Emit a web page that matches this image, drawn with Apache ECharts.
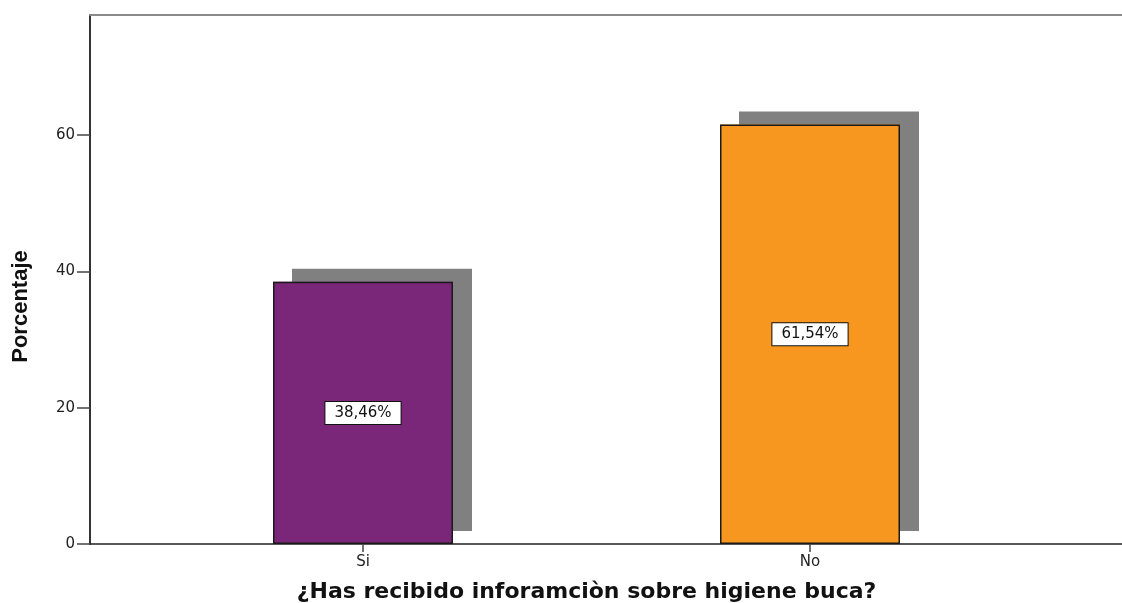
<!DOCTYPE html>
<html>
<head>
<meta charset="utf-8">
<script src="https://cdn.jsdelivr.net/npm/echarts@6/dist/echarts.min.js"></script>
<style>html,body{margin:0;padding:0;background:#fff}#c{width:1122px;height:603px}</style>
</head>
<body>
<div id="c"></div>
<script>
var categories = ['Si', 'No'];
var values = [38.46, 61.54];
var barColors = ['#7B2779', '#F7971F'];
var yTicks = [0, 20, 40, 60];
var yMax = 77.6;
var xTitle = '¿Has recibido inforamciòn sobre higiene buca?';
var yTitle = 'Porcentaje';

var chart = echarts.init(document.getElementById('c'), null, {renderer: 'canvas'});
var tickFont = {fontFamily: 'DejaVu Sans, sans-serif', fontSize: 15, color: '#222'};

function pct(v) { return v.toFixed(2).replace('.', ',') + '%'; }

var option = {
  animation: false,
  backgroundColor: '#fff',
  grid: [
    {left: 90, right: 0, top: 15, bottom: 59, containLabel: false, outerBoundsMode: 'none'},
    {left: 139.5, right: 88.5, top: 15, bottom: 59, containLabel: false, outerBoundsMode: 'none'}
  ],
  xAxis: [
    {gridIndex: 0, type: 'category', data: [''], position: 'bottom',
      axisLine: {show: true, lineStyle: {color: '#222', width: 1.5}},
      axisTick: {show: false}, axisLabel: {show: false}, splitLine: {show: false}},
    {gridIndex: 0, type: 'category', data: [''], position: 'top',
      axisLine: {show: true, lineStyle: {color: '#8a8a8a', width: 2}},
      axisTick: {show: false}, axisLabel: {show: false}, splitLine: {show: false}},
    {gridIndex: 1, type: 'category', data: categories, position: 'bottom',
      axisLine: {show: false},
      axisTick: {show: true, alignWithLabel: true, length: 8, lineStyle: {color: '#444', width: 1.5}},
      axisLabel: Object.assign({margin: 11}, tickFont),
      name: xTitle, nameLocation: 'middle', nameGap: 37,
      nameTextStyle: {fontFamily: 'DejaVu Sans, sans-serif', fontWeight: 'bold', fontSize: 22, color: '#111'}}
  ],
  yAxis: [
    {gridIndex: 0, type: 'value', min: 0, max: yMax, interval: 20,
      axisLine: {show: true, lineStyle: {color: '#333', width: 2}},
      axisTick: {show: true, customValues: yTicks, length: 13, lineStyle: {color: '#444', width: 1.5}},
      axisLabel: Object.assign({customValues: yTicks, margin: 15}, tickFont),
      splitLine: {show: false},
      name: yTitle, nameLocation: 'middle', nameGap: 58, nameRotate: 90,
      nameTextStyle: {fontFamily: 'Liberation Sans Narrow, Liberation Sans, Arial, sans-serif', fontWeight: 'bold', fontSize: 22, color: '#111', padding: [0, 54, 0, 0]}},
    {gridIndex: 1, type: 'value', min: 0, max: yMax, interval: 20, show: false,
      splitLine: {show: false}}
  ],
  series: [
    {
      name: 'shadow',
      type: 'bar',
      xAxisIndex: 2,
      yAxisIndex: 1,
      barWidth: 180,
      silent: true,
      data: values.map(function (v, i) {
        return {value: v, itemStyle: {color: barColors[i]}};
      }),
      itemStyle: {
        borderWidth: 0,
        shadowColor: '#808080',
        shadowBlur: 0,
        shadowOffsetX: 19,
        shadowOffsetY: -13
      },
      z: 1
    },
    {
      name: 'main',
      type: 'bar',
      xAxisIndex: 2,
      yAxisIndex: 1,
      barWidth: 180,
      barGap: '-100%',
      data: values.map(function (v, i) {
        return {value: v, itemStyle: {color: barColors[i]}};
      }),
      itemStyle: {
        borderColor: '#1a1a1a',
        borderWidth: 1.5
      },
      z: 2,
      label: {
        show: true,
        position: 'inside',
        formatter: function (p) { return pct(p.value); },
        backgroundColor: '#fff',
        borderColor: '#111',
        borderWidth: 1,
        padding: [4, 9, 3, 9],
        fontFamily: 'DejaVu Sans, sans-serif',
        fontSize: 15,
        color: '#111'
      }
    }
  ]
};
chart.setOption(option);
</script>
</body>
</html>
